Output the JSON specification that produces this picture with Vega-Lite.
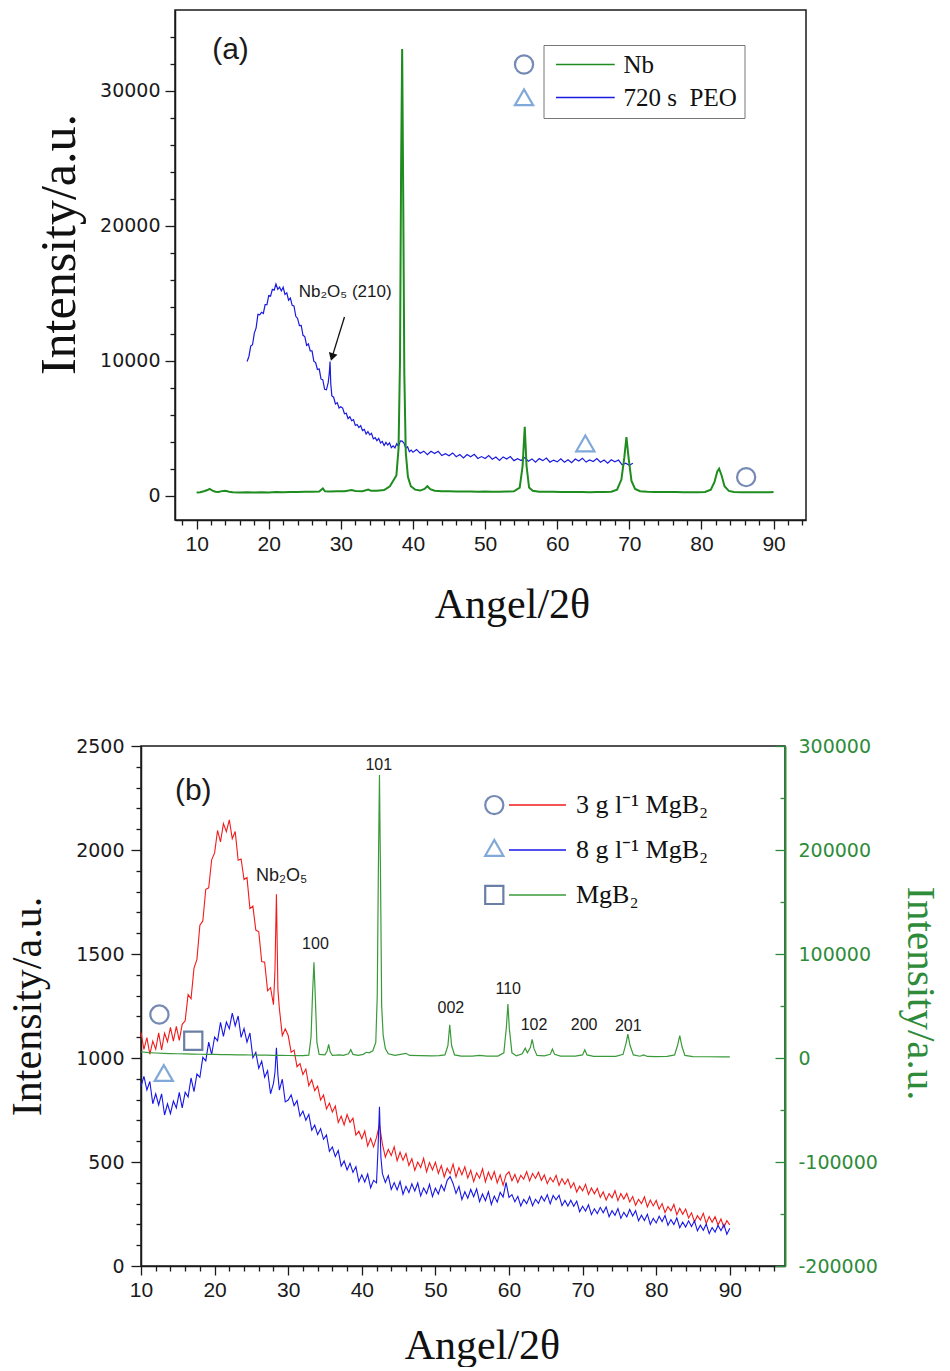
{
"$schema": "https://vega.github.io/schema/vega-lite/v6.json",
"background": "white",
"padding": {"left": 4, "top": 9, "right": 0, "bottom": 0},
"config": {
  "view": {"stroke": "#1a1a1a", "strokeWidth": 1.5},
  "axis": {"grid": false, "domainColor": "#1a1a1a", "domainWidth": 1.5, "tickColor": "#1a1a1a", "tickWidth": 1.3, "labelColor": "#1a1a1a", "titleColor": "#111111", "labelFont": "DejaVu Sans", "labelFontSize": 19, "titleFont": "Liberation Serif", "titleFontWeight": "normal", "labelFlush": false, "labelOverlap": false, "labelBound": false},
  "text": {"font": "Liberation Sans", "color": "#1a1a1a"}
},
"resolve": {"scale": {"color": "independent", "shape": "independent", "stroke": "independent"}},
"datasets": {
  "a_lines": [
    {"s":"Nb","x":10,"y":230},{"s":"Nb","x":10.5,"y":260},{"s":"Nb","x":11,"y":330},{"s":"Nb","x":11.5,"y":420},{"s":"Nb","x":11.8,"y":500},{"s":"Nb","x":12.2,"y":380},{"s":"Nb","x":12.6,"y":300},{"s":"Nb","x":13,"y":280},{"s":"Nb","x":13.5,"y":340},{"s":"Nb","x":14,"y":360},{"s":"Nb","x":14.5,"y":300},{"s":"Nb","x":15,"y":260},{"s":"Nb","x":16,"y":240},{"s":"Nb","x":17,"y":250},{"s":"Nb","x":18,"y":230},{"s":"Nb","x":19,"y":250},{"s":"Nb","x":20,"y":240},{"s":"Nb","x":21,"y":270},{"s":"Nb","x":22,"y":260},{"s":"Nb","x":23,"y":280},{"s":"Nb","x":24,"y":270},{"s":"Nb","x":25,"y":290},{"s":"Nb","x":26,"y":300},{"s":"Nb","x":27,"y":320},{"s":"Nb","x":27.5,"y":540},{"s":"Nb","x":27.8,"y":330},{"s":"Nb","x":28.5,"y":320},{"s":"Nb","x":29.5,"y":330},{"s":"Nb","x":30.5,"y":340},{"s":"Nb","x":31.5,"y":420},{"s":"Nb","x":32,"y":350},{"s":"Nb","x":33,"y":340},{"s":"Nb","x":33.8,"y":460},{"s":"Nb","x":34.2,"y":360},{"s":"Nb","x":35,"y":370},{"s":"Nb","x":36,"y":420},{"s":"Nb","x":36.8,"y":700},{"s":"Nb","x":37.3,"y":1150},{"s":"Nb","x":37.7,"y":1500},{"s":"Nb","x":38.0,"y":3500},{"s":"Nb","x":38.2,"y":10000},{"s":"Nb","x":38.35,"y":24000},{"s":"Nb","x":38.5,"y":33100},{"s":"Nb","x":38.65,"y":22000},{"s":"Nb","x":38.8,"y":9000},{"s":"Nb","x":39.0,"y":3200},{"s":"Nb","x":39.3,"y":1400},{"s":"Nb","x":39.7,"y":700},{"s":"Nb","x":40.3,"y":450},{"s":"Nb","x":41,"y":380},{"s":"Nb","x":41.6,"y":500},{"s":"Nb","x":42,"y":700},{"s":"Nb","x":42.4,"y":480},{"s":"Nb","x":43,"y":370},{"s":"Nb","x":44,"y":340},{"s":"Nb","x":45,"y":330},{"s":"Nb","x":46,"y":320},{"s":"Nb","x":47,"y":310},{"s":"Nb","x":48,"y":320},{"s":"Nb","x":49,"y":300},{"s":"Nb","x":50,"y":310},{"s":"Nb","x":51,"y":300},{"s":"Nb","x":52,"y":300},{"s":"Nb","x":53,"y":310},{"s":"Nb","x":54,"y":330},{"s":"Nb","x":54.8,"y":600},{"s":"Nb","x":55.2,"y":2200},{"s":"Nb","x":55.5,"y":5100},{"s":"Nb","x":55.75,"y":2200},{"s":"Nb","x":56.1,"y":600},{"s":"Nb","x":56.6,"y":360},{"s":"Nb","x":57.5,"y":300},{"s":"Nb","x":58.5,"y":290},{"s":"Nb","x":59.5,"y":290},{"s":"Nb","x":60.5,"y":280},{"s":"Nb","x":61.5,"y":280},{"s":"Nb","x":62.5,"y":270},{"s":"Nb","x":63.5,"y":270},{"s":"Nb","x":64.5,"y":260},{"s":"Nb","x":65.5,"y":270},{"s":"Nb","x":66.5,"y":280},{"s":"Nb","x":67.5,"y":300},{"s":"Nb","x":68.3,"y":450},{"s":"Nb","x":68.9,"y":1200},{"s":"Nb","x":69.3,"y":2800},{"s":"Nb","x":69.6,"y":4350},{"s":"Nb","x":69.9,"y":2800},{"s":"Nb","x":70.3,"y":1100},{"s":"Nb","x":70.8,"y":500},{"s":"Nb","x":71.5,"y":330},{"s":"Nb","x":72.5,"y":290},{"s":"Nb","x":73.5,"y":280},{"s":"Nb","x":74.5,"y":280},{"s":"Nb","x":75.5,"y":270},{"s":"Nb","x":76.5,"y":270},{"s":"Nb","x":77.5,"y":260},{"s":"Nb","x":78.5,"y":260},{"s":"Nb","x":79.5,"y":260},{"s":"Nb","x":80.5,"y":280},{"s":"Nb","x":81.3,"y":450},{"s":"Nb","x":81.8,"y":1000},{"s":"Nb","x":82.2,"y":1800},{"s":"Nb","x":82.45,"y":2000},{"s":"Nb","x":82.8,"y":1500},{"s":"Nb","x":83.2,"y":700},{"s":"Nb","x":83.8,"y":360},{"s":"Nb","x":84.5,"y":280},{"s":"Nb","x":85.5,"y":260},{"s":"Nb","x":86.5,"y":250},{"s":"Nb","x":87.5,"y":250},{"s":"Nb","x":88.5,"y":250},{"s":"Nb","x":89.5,"y":260},{"s":"Nb","x":90,"y":270},
    {"s":"720 s\u00a0 PEO","x":17.0,"y":9950},{"s":"720 s\u00a0 PEO","x":17.25,"y":10320},{"s":"720 s\u00a0 PEO","x":17.5,"y":11090},{"s":"720 s\u00a0 PEO","x":17.75,"y":11190},{"s":"720 s\u00a0 PEO","x":18.0,"y":12050},{"s":"720 s\u00a0 PEO","x":18.25,"y":12440},{"s":"720 s\u00a0 PEO","x":18.5,"y":13440},{"s":"720 s\u00a0 PEO","x":18.75,"y":13400},{"s":"720 s\u00a0 PEO","x":19.0,"y":13590},{"s":"720 s\u00a0 PEO","x":19.25,"y":13510},{"s":"720 s\u00a0 PEO","x":19.5,"y":14170},{"s":"720 s\u00a0 PEO","x":19.75,"y":14170},{"s":"720 s\u00a0 PEO","x":20.0,"y":14840},{"s":"720 s\u00a0 PEO","x":20.25,"y":14790},{"s":"720 s\u00a0 PEO","x":20.5,"y":15300},{"s":"720 s\u00a0 PEO","x":20.75,"y":15240},{"s":"720 s\u00a0 PEO","x":21.0,"y":15690},{"s":"720 s\u00a0 PEO","x":21.25,"y":15300},{"s":"720 s\u00a0 PEO","x":21.5,"y":15460},{"s":"720 s\u00a0 PEO","x":21.75,"y":15180},{"s":"720 s\u00a0 PEO","x":22.0,"y":15450},{"s":"720 s\u00a0 PEO","x":22.25,"y":14920},{"s":"720 s\u00a0 PEO","x":22.5,"y":15040},{"s":"720 s\u00a0 PEO","x":22.75,"y":14490},{"s":"720 s\u00a0 PEO","x":23.0,"y":14650},{"s":"720 s\u00a0 PEO","x":23.25,"y":14110},{"s":"720 s\u00a0 PEO","x":23.5,"y":14070},{"s":"720 s\u00a0 PEO","x":23.75,"y":13300},{"s":"720 s\u00a0 PEO","x":24.0,"y":13140},{"s":"720 s\u00a0 PEO","x":24.25,"y":12610},{"s":"720 s\u00a0 PEO","x":24.5,"y":12620},{"s":"720 s\u00a0 PEO","x":24.75,"y":11890},{"s":"720 s\u00a0 PEO","x":25.0,"y":11790},{"s":"720 s\u00a0 PEO","x":25.25,"y":11140},{"s":"720 s\u00a0 PEO","x":25.5,"y":11250},{"s":"720 s\u00a0 PEO","x":25.75,"y":10740},{"s":"720 s\u00a0 PEO","x":26.0,"y":10740},{"s":"720 s\u00a0 PEO","x":26.25,"y":9970},{"s":"720 s\u00a0 PEO","x":26.5,"y":9870},{"s":"720 s\u00a0 PEO","x":26.75,"y":9360},{"s":"720 s\u00a0 PEO","x":27.0,"y":9390},{"s":"720 s\u00a0 PEO","x":27.25,"y":8650},{"s":"720 s\u00a0 PEO","x":27.5,"y":8590},{"s":"720 s\u00a0 PEO","x":27.75,"y":7890},{"s":"720 s\u00a0 PEO","x":28.0,"y":7850},{"s":"720 s\u00a0 PEO","x":28.25,"y":8400},{"s":"720 s\u00a0 PEO","x":28.4,"y":9100},{"s":"720 s\u00a0 PEO","x":28.5,"y":9950},{"s":"720 s\u00a0 PEO","x":28.6,"y":8300},{"s":"720 s\u00a0 PEO","x":28.75,"y":7400},{"s":"720 s\u00a0 PEO","x":29.0,"y":7300},{"s":"720 s\u00a0 PEO","x":29.25,"y":6800},{"s":"720 s\u00a0 PEO","x":29.5,"y":6900},{"s":"720 s\u00a0 PEO","x":29.75,"y":6500},{"s":"720 s\u00a0 PEO","x":30.0,"y":6600},
    {"s":"720 s\u00a0 PEO","x":30.25,"y":6500},{"s":"720 s\u00a0 PEO","x":30.5,"y":6075},{"s":"720 s\u00a0 PEO","x":30.75,"y":6115},{"s":"720 s\u00a0 PEO","x":31.0,"y":5720},{"s":"720 s\u00a0 PEO","x":31.25,"y":5855},{"s":"720 s\u00a0 PEO","x":31.5,"y":5560},{"s":"720 s\u00a0 PEO","x":31.75,"y":5640},{"s":"720 s\u00a0 PEO","x":32.0,"y":5210},{"s":"720 s\u00a0 PEO","x":32.25,"y":5280},{"s":"720 s\u00a0 PEO","x":32.5,"y":5050},{"s":"720 s\u00a0 PEO","x":32.75,"y":5200},{"s":"720 s\u00a0 PEO","x":33.0,"y":4825},{"s":"720 s\u00a0 PEO","x":33.25,"y":4915},{"s":"720 s\u00a0 PEO","x":33.5,"y":4570},{"s":"720 s\u00a0 PEO","x":33.75,"y":4755},{"s":"720 s\u00a0 PEO","x":34.0,"y":4510},{"s":"720 s\u00a0 PEO","x":34.25,"y":4620},{"s":"720 s\u00a0 PEO","x":34.5,"y":4210},{"s":"720 s\u00a0 PEO","x":34.75,"y":4300},{"s":"720 s\u00a0 PEO","x":35.0,"y":4080},{"s":"720 s\u00a0 PEO","x":35.25,"y":4250},{"s":"720 s\u00a0 PEO","x":35.5,"y":3905},{"s":"720 s\u00a0 PEO","x":35.75,"y":4025},{"s":"720 s\u00a0 PEO","x":36.0,"y":3720},{"s":"720 s\u00a0 PEO","x":36.25,"y":3955},{"s":"720 s\u00a0 PEO","x":36.5,"y":3760},{"s":"720 s\u00a0 PEO","x":36.75,"y":3920},{"s":"720 s\u00a0 PEO","x":37.0,"y":3560},{"s":"720 s\u00a0 PEO","x":37.25,"y":3700},{"s":"720 s\u00a0 PEO","x":37.5,"y":3550},{"s":"720 s\u00a0 PEO","x":37.75,"y":3850},{"s":"720 s\u00a0 PEO","x":38.0,"y":3675},{"s":"720 s\u00a0 PEO","x":38.25,"y":4065},{"s":"720 s\u00a0 PEO","x":38.5,"y":4050},{"s":"720 s\u00a0 PEO","x":38.75,"y":3905},{"s":"720 s\u00a0 PEO","x":39.0,"y":3510},{"s":"720 s\u00a0 PEO","x":39.25,"y":3620},{"s":"720 s\u00a0 PEO","x":39.5,"y":3260},{"s":"720 s\u00a0 PEO","x":39.75,"y":3380},{"s":"720 s\u00a0 PEO","x":40.0,"y":3220},
    {"s":"720 s\u00a0 PEO","x":40.5,"y":3430},{"s":"720 s\u00a0 PEO","x":41.0,"y":3145},{"s":"720 s\u00a0 PEO","x":41.5,"y":3300},{"s":"720 s\u00a0 PEO","x":42.0,"y":3045},{"s":"720 s\u00a0 PEO","x":42.5,"y":3290},{"s":"720 s\u00a0 PEO","x":43.0,"y":3120},{"s":"720 s\u00a0 PEO","x":43.5,"y":3290},{"s":"720 s\u00a0 PEO","x":44.0,"y":2975},{"s":"720 s\u00a0 PEO","x":44.5,"y":3110},{"s":"720 s\u00a0 PEO","x":45.0,"y":2960},{"s":"720 s\u00a0 PEO","x":45.5,"y":3170},{"s":"720 s\u00a0 PEO","x":46.0,"y":2890},{"s":"720 s\u00a0 PEO","x":46.5,"y":3050},{"s":"720 s\u00a0 PEO","x":47.0,"y":2800},{"s":"720 s\u00a0 PEO","x":47.5,"y":3050},{"s":"720 s\u00a0 PEO","x":48.0,"y":2890},{"s":"720 s\u00a0 PEO","x":48.5,"y":3070},{"s":"720 s\u00a0 PEO","x":49.0,"y":2760},{"s":"720 s\u00a0 PEO","x":49.5,"y":2900},{"s":"720 s\u00a0 PEO","x":50.0,"y":2760},{"s":"720 s\u00a0 PEO","x":50.5,"y":2975},{"s":"720 s\u00a0 PEO","x":51.0,"y":2700},{"s":"720 s\u00a0 PEO","x":51.5,"y":2865},{"s":"720 s\u00a0 PEO","x":52.0,"y":2620},{"s":"720 s\u00a0 PEO","x":52.5,"y":2875},{"s":"720 s\u00a0 PEO","x":53.0,"y":2720},{"s":"720 s\u00a0 PEO","x":53.5,"y":2905},{"s":"720 s\u00a0 PEO","x":54.0,"y":2600},{"s":"720 s\u00a0 PEO","x":54.5,"y":2745},{"s":"720 s\u00a0 PEO","x":55.0,"y":2610},{"s":"720 s\u00a0 PEO","x":55.5,"y":2830},{"s":"720 s\u00a0 PEO","x":56.0,"y":2560},{"s":"720 s\u00a0 PEO","x":56.5,"y":2730},{"s":"720 s\u00a0 PEO","x":57.0,"y":2490},{"s":"720 s\u00a0 PEO","x":57.5,"y":2750},{"s":"720 s\u00a0 PEO","x":58.0,"y":2600},{"s":"720 s\u00a0 PEO","x":58.5,"y":2790},{"s":"720 s\u00a0 PEO","x":59.0,"y":2490},{"s":"720 s\u00a0 PEO","x":59.5,"y":2640},{"s":"720 s\u00a0 PEO","x":60.0,"y":2510},{"s":"720 s\u00a0 PEO","x":60.5,"y":2743},{"s":"720 s\u00a0 PEO","x":61.0,"y":2486},{"s":"720 s\u00a0 PEO","x":61.5,"y":2669},{"s":"720 s\u00a0 PEO","x":62.0,"y":2442},{"s":"720 s\u00a0 PEO","x":62.5,"y":2715},{"s":"720 s\u00a0 PEO","x":63.0,"y":2578},{"s":"720 s\u00a0 PEO","x":63.5,"y":2781},{"s":"720 s\u00a0 PEO","x":64.0,"y":2494},{"s":"720 s\u00a0 PEO","x":64.5,"y":2657},{"s":"720 s\u00a0 PEO","x":65.0,"y":2540},{"s":"720 s\u00a0 PEO","x":65.5,"y":2757},{"s":"720 s\u00a0 PEO","x":66.0,"y":2484},{"s":"720 s\u00a0 PEO","x":66.5,"y":2650},{"s":"720 s\u00a0 PEO","x":67.0,"y":2407},{"s":"720 s\u00a0 PEO","x":67.5,"y":2664},{"s":"720 s\u00a0 PEO","x":68.0,"y":2510},{"s":"720 s\u00a0 PEO","x":68.5,"y":2645},{"s":"720 s\u00a0 PEO","x":69.0,"y":2290},{"s":"720 s\u00a0 PEO","x":69.5,"y":2415},{"s":"720 s\u00a0 PEO","x":70.0,"y":2260},{"s":"720 s\u00a0 PEO","x":70.5,"y":2400}
  ],
  "a_marks": [{"k":"circle","x":86.2,"y":1375},{"k":"triangle","x":63.9,"y":3875},{"k":"circle","x":55.4,"y":31960},{"k":"triangle","x":55.4,"y":29530}],
  "a_arrow": [{"x":30.5,"y":13250,"x2":28.78,"y2":10275}],
  "a_head": [{"x":28.78,"y":10275}],
  "a_label": [{"t":"(a)","x":14.7,"y":33000}],
  "a_nb": [{"t":"Nb₂O₅ (210)","x":30.6,"y":15125}],
  "b_lines": [
    {"s":"3 g l⁻¹ MgB₂","x":10.0,"y":1122},{"s":"3 g l⁻¹ MgB₂","x":10.4,"y":1041},{"s":"3 g l⁻¹ MgB₂","x":10.8,"y":1098},{"s":"3 g l⁻¹ MgB₂","x":11.2,"y":1018},{"s":"3 g l⁻¹ MgB₂","x":11.6,"y":1081},{"s":"3 g l⁻¹ MgB₂","x":12.0,"y":1042},{"s":"3 g l⁻¹ MgB₂","x":12.4,"y":1121},{"s":"3 g l⁻¹ MgB₂","x":12.8,"y":1039},{"s":"3 g l⁻¹ MgB₂","x":13.2,"y":1119},{"s":"3 g l⁻¹ MgB₂","x":13.6,"y":1078},{"s":"3 g l⁻¹ MgB₂","x":14.0,"y":1147},{"s":"3 g l⁻¹ MgB₂","x":14.4,"y":1081},{"s":"3 g l⁻¹ MgB₂","x":14.8,"y":1152},{"s":"3 g l⁻¹ MgB₂","x":15.2,"y":1085},{"s":"3 g l⁻¹ MgB₂","x":15.6,"y":1162},{"s":"3 g l⁻¹ MgB₂","x":16.0,"y":1179},{"s":"3 g l⁻¹ MgB₂","x":16.4,"y":1305},{"s":"3 g l⁻¹ MgB₂","x":16.8,"y":1285},{"s":"3 g l⁻¹ MgB₂","x":17.2,"y":1432},{"s":"3 g l⁻¹ MgB₂","x":17.6,"y":1474},{"s":"3 g l⁻¹ MgB₂","x":18.0,"y":1639},{"s":"3 g l⁻¹ MgB₂","x":18.4,"y":1659},{"s":"3 g l⁻¹ MgB₂","x":18.8,"y":1811},{"s":"3 g l⁻¹ MgB₂","x":19.2,"y":1818},{"s":"3 g l⁻¹ MgB₂","x":19.6,"y":1953},{"s":"3 g l⁻¹ MgB₂","x":20.0,"y":1986},{"s":"3 g l⁻¹ MgB₂","x":20.4,"y":2094},{"s":"3 g l⁻¹ MgB₂","x":20.8,"y":2039},{"s":"3 g l⁻¹ MgB₂","x":21.2,"y":2127},{"s":"3 g l⁻¹ MgB₂","x":21.6,"y":2088},{"s":"3 g l⁻¹ MgB₂","x":22.0,"y":2145},{"s":"3 g l⁻¹ MgB₂","x":22.4,"y":2054},{"s":"3 g l⁻¹ MgB₂","x":22.8,"y":2089},{"s":"3 g l⁻¹ MgB₂","x":23.2,"y":1951},{"s":"3 g l⁻¹ MgB₂","x":23.6,"y":1957},{"s":"3 g l⁻¹ MgB₂","x":24.0,"y":1858},{"s":"3 g l⁻¹ MgB₂","x":24.4,"y":1868},{"s":"3 g l⁻¹ MgB₂","x":24.8,"y":1718},{"s":"3 g l⁻¹ MgB₂","x":25.2,"y":1730},{"s":"3 g l⁻¹ MgB₂","x":25.6,"y":1615},{"s":"3 g l⁻¹ MgB₂","x":26.0,"y":1607},{"s":"3 g l⁻¹ MgB₂","x":26.4,"y":1464},{"s":"3 g l⁻¹ MgB₂","x":26.8,"y":1461},{"s":"3 g l⁻¹ MgB₂","x":27.2,"y":1323},{"s":"3 g l⁻¹ MgB₂","x":27.6,"y":1338},{"s":"3 g l⁻¹ MgB₂","x":28.0,"y":1256},{"s":"3 g l⁻¹ MgB₂","x":28.2,"y":1420},{"s":"3 g l⁻¹ MgB₂","x":28.4,"y":1787},{"s":"3 g l⁻¹ MgB₂","x":28.6,"y":1330},{"s":"3 g l⁻¹ MgB₂","x":28.8,"y":1238},{"s":"3 g l⁻¹ MgB₂","x":29.2,"y":1108},{"s":"3 g l⁻¹ MgB₂","x":29.6,"y":1140},
    {"s":"3 g l⁻¹ MgB₂","x":30.0,"y":1108},{"s":"3 g l⁻¹ MgB₂","x":30.4,"y":1028},{"s":"3 g l⁻¹ MgB₂","x":30.8,"y":1038},{"s":"3 g l⁻¹ MgB₂","x":31.2,"y":958},{"s":"3 g l⁻¹ MgB₂","x":31.6,"y":973},{"s":"3 g l⁻¹ MgB₂","x":32.0,"y":921},{"s":"3 g l⁻¹ MgB₂","x":32.4,"y":947},{"s":"3 g l⁻¹ MgB₂","x":32.8,"y":867},{"s":"3 g l⁻¹ MgB₂","x":33.2,"y":895},{"s":"3 g l⁻¹ MgB₂","x":33.6,"y":843},{"s":"3 g l⁻¹ MgB₂","x":34.0,"y":865},{"s":"3 g l⁻¹ MgB₂","x":34.4,"y":798},{"s":"3 g l⁻¹ MgB₂","x":34.8,"y":822},{"s":"3 g l⁻¹ MgB₂","x":35.2,"y":755},{"s":"3 g l⁻¹ MgB₂","x":35.6,"y":783},{"s":"3 g l⁻¹ MgB₂","x":36.0,"y":740},{"s":"3 g l⁻¹ MgB₂","x":36.4,"y":769},{"s":"3 g l⁻¹ MgB₂","x":36.8,"y":690},{"s":"3 g l⁻¹ MgB₂","x":37.2,"y":720},{"s":"3 g l⁻¹ MgB₂","x":37.6,"y":678},{"s":"3 g l⁻¹ MgB₂","x":38.0,"y":728},{"s":"3 g l⁻¹ MgB₂","x":38.4,"y":691},{"s":"3 g l⁻¹ MgB₂","x":38.8,"y":711},{"s":"3 g l⁻¹ MgB₂","x":39.2,"y":629},{"s":"3 g l⁻¹ MgB₂","x":39.6,"y":648},{"s":"3 g l⁻¹ MgB₂","x":40.0,"y":612},{"s":"3 g l⁻¹ MgB₂","x":40.4,"y":649},{"s":"3 g l⁻¹ MgB₂","x":40.8,"y":577},{"s":"3 g l⁻¹ MgB₂","x":41.2,"y":614},{"s":"3 g l⁻¹ MgB₂","x":41.6,"y":573},{"s":"3 g l⁻¹ MgB₂","x":42.0,"y":618},{"s":"3 g l⁻¹ MgB₂","x":42.4,"y":680},{"s":"3 g l⁻¹ MgB₂","x":42.8,"y":586},{"s":"3 g l⁻¹ MgB₂","x":43.2,"y":524},{"s":"3 g l⁻¹ MgB₂","x":43.6,"y":561},{"s":"3 g l⁻¹ MgB₂","x":44.0,"y":531},{"s":"3 g l⁻¹ MgB₂","x":44.4,"y":573},{"s":"3 g l⁻¹ MgB₂","x":44.8,"y":506},{"s":"3 g l⁻¹ MgB₂","x":45.2,"y":547},{"s":"3 g l⁻¹ MgB₂","x":45.6,"y":508},{"s":"3 g l⁻¹ MgB₂","x":46.0,"y":541},{"s":"3 g l⁻¹ MgB₂","x":46.4,"y":483},{"s":"3 g l⁻¹ MgB₂","x":46.8,"y":516},{"s":"3 g l⁻¹ MgB₂","x":47.2,"y":460},{"s":"3 g l⁻¹ MgB₂","x":47.6,"y":500},{"s":"3 g l⁻¹ MgB₂","x":48.0,"y":473},{"s":"3 g l⁻¹ MgB₂","x":48.4,"y":517},{"s":"3 g l⁻¹ MgB₂","x":48.8,"y":453},{"s":"3 g l⁻¹ MgB₂","x":49.2,"y":497},{"s":"3 g l⁻¹ MgB₂","x":49.6,"y":462},{"s":"3 g l⁻¹ MgB₂","x":50.0,"y":499},{"s":"3 g l⁻¹ MgB₂","x":50.4,"y":445},{"s":"3 g l⁻¹ MgB₂","x":50.8,"y":483},{"s":"3 g l⁻¹ MgB₂","x":51.2,"y":428},{"s":"3 g l⁻¹ MgB₂","x":51.6,"y":470},{"s":"3 g l⁻¹ MgB₂","x":52.0,"y":444},{"s":"3 g l⁻¹ MgB₂","x":52.4,"y":490},{"s":"3 g l⁻¹ MgB₂","x":52.8,"y":428},{"s":"3 g l⁻¹ MgB₂","x":53.2,"y":473},{"s":"3 g l⁻¹ MgB₂","x":53.6,"y":439},{"s":"3 g l⁻¹ MgB₂","x":54.0,"y":477},{"s":"3 g l⁻¹ MgB₂","x":54.4,"y":423},{"s":"3 g l⁻¹ MgB₂","x":54.8,"y":460},{"s":"3 g l⁻¹ MgB₂","x":55.2,"y":406},{"s":"3 g l⁻¹ MgB₂","x":55.6,"y":448},{"s":"3 g l⁻¹ MgB₂","x":56.0,"y":422},{"s":"3 g l⁻¹ MgB₂","x":56.4,"y":467},{"s":"3 g l⁻¹ MgB₂","x":56.8,"y":405},{"s":"3 g l⁻¹ MgB₂","x":57.2,"y":451},{"s":"3 g l⁻¹ MgB₂","x":57.6,"y":416},{"s":"3 g l⁻¹ MgB₂","x":58.0,"y":454},{"s":"3 g l⁻¹ MgB₂","x":58.4,"y":399},{"s":"3 g l⁻¹ MgB₂","x":58.8,"y":438},{"s":"3 g l⁻¹ MgB₂","x":59.2,"y":388},{"s":"3 g l⁻¹ MgB₂","x":59.6,"y":438},
    {"s":"3 g l⁻¹ MgB₂","x":60.0,"y":453},{"s":"3 g l⁻¹ MgB₂","x":60.4,"y":410},{"s":"3 g l⁻¹ MgB₂","x":60.8,"y":440},{"s":"3 g l⁻¹ MgB₂","x":61.2,"y":402},{"s":"3 g l⁻¹ MgB₂","x":61.6,"y":436},{"s":"3 g l⁻¹ MgB₂","x":62.0,"y":418},{"s":"3 g l⁻¹ MgB₂","x":62.4,"y":454},{"s":"3 g l⁻¹ MgB₂","x":62.8,"y":409},{"s":"3 g l⁻¹ MgB₂","x":63.2,"y":445},{"s":"3 g l⁻¹ MgB₂","x":63.6,"y":421},{"s":"3 g l⁻¹ MgB₂","x":64.0,"y":451},{"s":"3 g l⁻¹ MgB₂","x":64.4,"y":412},{"s":"3 g l⁻¹ MgB₂","x":64.8,"y":438},{"s":"3 g l⁻¹ MgB₂","x":65.2,"y":396},{"s":"3 g l⁻¹ MgB₂","x":65.6,"y":425},{"s":"3 g l⁻¹ MgB₂","x":66.0,"y":404},{"s":"3 g l⁻¹ MgB₂","x":66.4,"y":436},{"s":"3 g l⁻¹ MgB₂","x":66.8,"y":388},{"s":"3 g l⁻¹ MgB₂","x":67.2,"y":420},{"s":"3 g l⁻¹ MgB₂","x":67.6,"y":393},{"s":"3 g l⁻¹ MgB₂","x":68.0,"y":418},{"s":"3 g l⁻¹ MgB₂","x":68.4,"y":375},{"s":"3 g l⁻¹ MgB₂","x":68.8,"y":400},{"s":"3 g l⁻¹ MgB₂","x":69.2,"y":356},{"s":"3 g l⁻¹ MgB₂","x":69.6,"y":384},{"s":"3 g l⁻¹ MgB₂","x":70.0,"y":361},{"s":"3 g l⁻¹ MgB₂","x":70.4,"y":393},{"s":"3 g l⁻¹ MgB₂","x":70.8,"y":344},{"s":"3 g l⁻¹ MgB₂","x":71.2,"y":375},{"s":"3 g l⁻¹ MgB₂","x":71.6,"y":347},{"s":"3 g l⁻¹ MgB₂","x":72.0,"y":373},{"s":"3 g l⁻¹ MgB₂","x":72.4,"y":330},{"s":"3 g l⁻¹ MgB₂","x":72.8,"y":356},{"s":"3 g l⁻¹ MgB₂","x":73.2,"y":317},{"s":"3 g l⁻¹ MgB₂","x":73.6,"y":348},{"s":"3 g l⁻¹ MgB₂","x":74.0,"y":328},{"s":"3 g l⁻¹ MgB₂","x":74.4,"y":362},{"s":"3 g l⁻¹ MgB₂","x":74.8,"y":314},{"s":"3 g l⁻¹ MgB₂","x":75.2,"y":348},{"s":"3 g l⁻¹ MgB₂","x":75.6,"y":322},{"s":"3 g l⁻¹ MgB₂","x":76.0,"y":349},{"s":"3 g l⁻¹ MgB₂","x":76.4,"y":308},{"s":"3 g l⁻¹ MgB₂","x":76.8,"y":334},{"s":"3 g l⁻¹ MgB₂","x":77.2,"y":292},{"s":"3 g l⁻¹ MgB₂","x":77.6,"y":321},{"s":"3 g l⁻¹ MgB₂","x":78.0,"y":300},{"s":"3 g l⁻¹ MgB₂","x":78.4,"y":332},{"s":"3 g l⁻¹ MgB₂","x":78.8,"y":284},{"s":"3 g l⁻¹ MgB₂","x":79.2,"y":317},{"s":"3 g l⁻¹ MgB₂","x":79.6,"y":289},{"s":"3 g l⁻¹ MgB₂","x":80.0,"y":315},{"s":"3 g l⁻¹ MgB₂","x":80.4,"y":273},{"s":"3 g l⁻¹ MgB₂","x":80.8,"y":300},{"s":"3 g l⁻¹ MgB₂","x":81.2,"y":257},{"s":"3 g l⁻¹ MgB₂","x":81.6,"y":286},{"s":"3 g l⁻¹ MgB₂","x":82.0,"y":265},{"s":"3 g l⁻¹ MgB₂","x":82.4,"y":296},{"s":"3 g l⁻¹ MgB₂","x":82.8,"y":247},{"s":"3 g l⁻¹ MgB₂","x":83.2,"y":278},{"s":"3 g l⁻¹ MgB₂","x":83.6,"y":249},{"s":"3 g l⁻¹ MgB₂","x":84.0,"y":274},{"s":"3 g l⁻¹ MgB₂","x":84.4,"y":231},{"s":"3 g l⁻¹ MgB₂","x":84.8,"y":256},{"s":"3 g l⁻¹ MgB₂","x":85.2,"y":212},{"s":"3 g l⁻¹ MgB₂","x":85.6,"y":242},{"s":"3 g l⁻¹ MgB₂","x":86.0,"y":221},{"s":"3 g l⁻¹ MgB₂","x":86.4,"y":253},{"s":"3 g l⁻¹ MgB₂","x":86.8,"y":205},{"s":"3 g l⁻¹ MgB₂","x":87.2,"y":238},{"s":"3 g l⁻¹ MgB₂","x":87.6,"y":210},{"s":"3 g l⁻¹ MgB₂","x":88.0,"y":237},{"s":"3 g l⁻¹ MgB₂","x":88.4,"y":197},{"s":"3 g l⁻¹ MgB₂","x":88.8,"y":226},{"s":"3 g l⁻¹ MgB₂","x":89.2,"y":186},{"s":"3 g l⁻¹ MgB₂","x":89.6,"y":218},{"s":"3 g l⁻¹ MgB₂","x":90.0,"y":198},
    {"s":"8 g l⁻¹ MgB₂","x":10.0,"y":864},{"s":"8 g l⁻¹ MgB₂","x":10.4,"y":912},{"s":"8 g l⁻¹ MgB₂","x":10.8,"y":846},{"s":"8 g l⁻¹ MgB₂","x":11.2,"y":887},{"s":"8 g l⁻¹ MgB₂","x":11.6,"y":780},{"s":"8 g l⁻¹ MgB₂","x":12.0,"y":828},{"s":"8 g l⁻¹ MgB₂","x":12.4,"y":774},{"s":"8 g l⁻¹ MgB₂","x":12.8,"y":828},{"s":"8 g l⁻¹ MgB₂","x":13.2,"y":726},{"s":"8 g l⁻¹ MgB₂","x":13.6,"y":780},{"s":"8 g l⁻¹ MgB₂","x":14.0,"y":733},{"s":"8 g l⁻¹ MgB₂","x":14.4,"y":793},{"s":"8 g l⁻¹ MgB₂","x":14.8,"y":760},{"s":"8 g l⁻¹ MgB₂","x":15.2,"y":835},{"s":"8 g l⁻¹ MgB₂","x":15.6,"y":760},{"s":"8 g l⁻¹ MgB₂","x":16.0,"y":835},{"s":"8 g l⁻¹ MgB₂","x":16.4,"y":813},{"s":"8 g l⁻¹ MgB₂","x":16.8,"y":904},{"s":"8 g l⁻¹ MgB₂","x":17.2,"y":838},{"s":"8 g l⁻¹ MgB₂","x":17.6,"y":923},{"s":"8 g l⁻¹ MgB₂","x":18.0,"y":907},{"s":"8 g l⁻¹ MgB₂","x":18.4,"y":1003},{"s":"8 g l⁻¹ MgB₂","x":18.8,"y":986},{"s":"8 g l⁻¹ MgB₂","x":19.2,"y":1076},{"s":"8 g l⁻¹ MgB₂","x":19.6,"y":1016},{"s":"8 g l⁻¹ MgB₂","x":20.0,"y":1101},{"s":"8 g l⁻¹ MgB₂","x":20.4,"y":1082},{"s":"8 g l⁻¹ MgB₂","x":20.8,"y":1171},{"s":"8 g l⁻¹ MgB₂","x":21.2,"y":1104},{"s":"8 g l⁻¹ MgB₂","x":21.6,"y":1173},{"s":"8 g l⁻¹ MgB₂","x":22.0,"y":1141},{"s":"8 g l⁻¹ MgB₂","x":22.4,"y":1216},{"s":"8 g l⁻¹ MgB₂","x":22.8,"y":1155},{"s":"8 g l⁻¹ MgB₂","x":23.2,"y":1202},{"s":"8 g l⁻¹ MgB₂","x":23.6,"y":1099},{"s":"8 g l⁻¹ MgB₂","x":24.0,"y":1141},{"s":"8 g l⁻¹ MgB₂","x":24.4,"y":1076},{"s":"8 g l⁻¹ MgB₂","x":24.8,"y":1120},{"s":"8 g l⁻¹ MgB₂","x":25.2,"y":1001},{"s":"8 g l⁻¹ MgB₂","x":25.6,"y":1027},{"s":"8 g l⁻¹ MgB₂","x":26.0,"y":950},{"s":"8 g l⁻¹ MgB₂","x":26.4,"y":985},{"s":"8 g l⁻¹ MgB₂","x":26.8,"y":908},{"s":"8 g l⁻¹ MgB₂","x":27.2,"y":939},{"s":"8 g l⁻¹ MgB₂","x":27.6,"y":828},{"s":"8 g l⁻¹ MgB₂","x":28.0,"y":878},{"s":"8 g l⁻¹ MgB₂","x":28.2,"y":930},{"s":"8 g l⁻¹ MgB₂","x":28.4,"y":1049},{"s":"8 g l⁻¹ MgB₂","x":28.6,"y":920},{"s":"8 g l⁻¹ MgB₂","x":28.8,"y":846},{"s":"8 g l⁻¹ MgB₂","x":29.2,"y":898},{"s":"8 g l⁻¹ MgB₂","x":29.6,"y":789},
    {"s":"8 g l⁻¹ MgB₂","x":30.0,"y":798},{"s":"8 g l⁻¹ MgB₂","x":30.4,"y":823},{"s":"8 g l⁻¹ MgB₂","x":30.8,"y":771},{"s":"8 g l⁻¹ MgB₂","x":31.2,"y":795},{"s":"8 g l⁻¹ MgB₂","x":31.6,"y":720},{"s":"8 g l⁻¹ MgB₂","x":32.0,"y":745},{"s":"8 g l⁻¹ MgB₂","x":32.4,"y":701},{"s":"8 g l⁻¹ MgB₂","x":32.8,"y":729},{"s":"8 g l⁻¹ MgB₂","x":33.2,"y":653},{"s":"8 g l⁻¹ MgB₂","x":33.6,"y":677},{"s":"8 g l⁻¹ MgB₂","x":34.0,"y":632},{"s":"8 g l⁻¹ MgB₂","x":34.4,"y":660},{"s":"8 g l⁻¹ MgB₂","x":34.8,"y":609},{"s":"8 g l⁻¹ MgB₂","x":35.2,"y":630},{"s":"8 g l⁻¹ MgB₂","x":35.6,"y":551},{"s":"8 g l⁻¹ MgB₂","x":36.0,"y":572},{"s":"8 g l⁻¹ MgB₂","x":36.4,"y":526},{"s":"8 g l⁻¹ MgB₂","x":36.8,"y":555},{"s":"8 g l⁻¹ MgB₂","x":37.2,"y":480},{"s":"8 g l⁻¹ MgB₂","x":37.6,"y":505},{"s":"8 g l⁻¹ MgB₂","x":38.0,"y":462},{"s":"8 g l⁻¹ MgB₂","x":38.4,"y":494},{"s":"8 g l⁻¹ MgB₂","x":38.8,"y":450},{"s":"8 g l⁻¹ MgB₂","x":39.2,"y":478},{"s":"8 g l⁻¹ MgB₂","x":39.6,"y":405},{"s":"8 g l⁻¹ MgB₂","x":40.0,"y":438},{"s":"8 g l⁻¹ MgB₂","x":40.4,"y":404},{"s":"8 g l⁻¹ MgB₂","x":40.8,"y":442},{"s":"8 g l⁻¹ MgB₂","x":41.2,"y":376},{"s":"8 g l⁻¹ MgB₂","x":41.6,"y":412},{"s":"8 g l⁻¹ MgB₂","x":42.0,"y":400},{"s":"8 g l⁻¹ MgB₂","x":42.2,"y":560},{"s":"8 g l⁻¹ MgB₂","x":42.4,"y":765},{"s":"8 g l⁻¹ MgB₂","x":42.6,"y":520},{"s":"8 g l⁻¹ MgB₂","x":42.8,"y":444},{"s":"8 g l⁻¹ MgB₂","x":43.2,"y":402},{"s":"8 g l⁻¹ MgB₂","x":43.6,"y":435},{"s":"8 g l⁻¹ MgB₂","x":44.0,"y":368},{"s":"8 g l⁻¹ MgB₂","x":44.4,"y":401},{"s":"8 g l⁻¹ MgB₂","x":44.8,"y":366},{"s":"8 g l⁻¹ MgB₂","x":45.2,"y":406},{"s":"8 g l⁻¹ MgB₂","x":45.6,"y":345},{"s":"8 g l⁻¹ MgB₂","x":46.0,"y":383},{"s":"8 g l⁻¹ MgB₂","x":46.4,"y":353},{"s":"8 g l⁻¹ MgB₂","x":46.8,"y":395},{"s":"8 g l⁻¹ MgB₂","x":47.2,"y":361},{"s":"8 g l⁻¹ MgB₂","x":47.6,"y":399},{"s":"8 g l⁻¹ MgB₂","x":48.0,"y":337},{"s":"8 g l⁻¹ MgB₂","x":48.4,"y":375},{"s":"8 g l⁻¹ MgB₂","x":48.8,"y":348},{"s":"8 g l⁻¹ MgB₂","x":49.2,"y":393},{"s":"8 g l⁻¹ MgB₂","x":49.6,"y":334},{"s":"8 g l⁻¹ MgB₂","x":50.0,"y":374},{"s":"8 g l⁻¹ MgB₂","x":50.4,"y":346},{"s":"8 g l⁻¹ MgB₂","x":50.8,"y":390},{"s":"8 g l⁻¹ MgB₂","x":51.2,"y":362},{"s":"8 g l⁻¹ MgB₂","x":51.6,"y":412},{"s":"8 g l⁻¹ MgB₂","x":52.0,"y":430},{"s":"8 g l⁻¹ MgB₂","x":52.4,"y":397},{"s":"8 g l⁻¹ MgB₂","x":52.8,"y":349},{"s":"8 g l⁻¹ MgB₂","x":53.2,"y":383},{"s":"8 g l⁻¹ MgB₂","x":53.6,"y":319},{"s":"8 g l⁻¹ MgB₂","x":54.0,"y":357},{"s":"8 g l⁻¹ MgB₂","x":54.4,"y":326},{"s":"8 g l⁻¹ MgB₂","x":54.8,"y":368},{"s":"8 g l⁻¹ MgB₂","x":55.2,"y":333},{"s":"8 g l⁻¹ MgB₂","x":55.6,"y":371},{"s":"8 g l⁻¹ MgB₂","x":56.0,"y":309},{"s":"8 g l⁻¹ MgB₂","x":56.4,"y":346},{"s":"8 g l⁻¹ MgB₂","x":56.8,"y":314},{"s":"8 g l⁻¹ MgB₂","x":57.2,"y":357},{"s":"8 g l⁻¹ MgB₂","x":57.6,"y":296},{"s":"8 g l⁻¹ MgB₂","x":58.0,"y":336},{"s":"8 g l⁻¹ MgB₂","x":58.4,"y":308},{"s":"8 g l⁻¹ MgB₂","x":58.8,"y":354},{"s":"8 g l⁻¹ MgB₂","x":59.2,"y":332},{"s":"8 g l⁻¹ MgB₂","x":59.6,"y":402},
    {"s":"8 g l⁻¹ MgB₂","x":60.0,"y":330},{"s":"8 g l⁻¹ MgB₂","x":60.4,"y":343},{"s":"8 g l⁻¹ MgB₂","x":60.8,"y":309},{"s":"8 g l⁻¹ MgB₂","x":61.2,"y":335},{"s":"8 g l⁻¹ MgB₂","x":61.6,"y":289},{"s":"8 g l⁻¹ MgB₂","x":62.0,"y":320},{"s":"8 g l⁻¹ MgB₂","x":62.4,"y":300},{"s":"8 g l⁻¹ MgB₂","x":62.8,"y":334},{"s":"8 g l⁻¹ MgB₂","x":63.2,"y":290},{"s":"8 g l⁻¹ MgB₂","x":63.6,"y":321},{"s":"8 g l⁻¹ MgB₂","x":64.0,"y":301},{"s":"8 g l⁻¹ MgB₂","x":64.4,"y":335},{"s":"8 g l⁻¹ MgB₂","x":64.8,"y":312},{"s":"8 g l⁻¹ MgB₂","x":65.2,"y":343},{"s":"8 g l⁻¹ MgB₂","x":65.6,"y":299},{"s":"8 g l⁻¹ MgB₂","x":66.0,"y":339},{"s":"8 g l⁻¹ MgB₂","x":66.4,"y":318},{"s":"8 g l⁻¹ MgB₂","x":66.8,"y":340},{"s":"8 g l⁻¹ MgB₂","x":67.2,"y":290},{"s":"8 g l⁻¹ MgB₂","x":67.6,"y":315},{"s":"8 g l⁻¹ MgB₂","x":68.0,"y":288},{"s":"8 g l⁻¹ MgB₂","x":68.4,"y":316},{"s":"8 g l⁻¹ MgB₂","x":68.8,"y":287},{"s":"8 g l⁻¹ MgB₂","x":69.2,"y":312},{"s":"8 g l⁻¹ MgB₂","x":69.6,"y":261},{"s":"8 g l⁻¹ MgB₂","x":70.0,"y":287},{"s":"8 g l⁻¹ MgB₂","x":70.4,"y":264},{"s":"8 g l⁻¹ MgB₂","x":70.8,"y":294},{"s":"8 g l⁻¹ MgB₂","x":71.2,"y":247},{"s":"8 g l⁻¹ MgB₂","x":71.6,"y":275},{"s":"8 g l⁻¹ MgB₂","x":72.0,"y":252},{"s":"8 g l⁻¹ MgB₂","x":72.4,"y":282},{"s":"8 g l⁻¹ MgB₂","x":72.8,"y":256},{"s":"8 g l⁻¹ MgB₂","x":73.2,"y":284},{"s":"8 g l⁻¹ MgB₂","x":73.6,"y":237},{"s":"8 g l⁻¹ MgB₂","x":74.0,"y":266},{"s":"8 g l⁻¹ MgB₂","x":74.4,"y":244},{"s":"8 g l⁻¹ MgB₂","x":74.8,"y":276},{"s":"8 g l⁻¹ MgB₂","x":75.2,"y":229},{"s":"8 g l⁻¹ MgB₂","x":75.6,"y":258},{"s":"8 g l⁻¹ MgB₂","x":76.0,"y":236},{"s":"8 g l⁻¹ MgB₂","x":76.4,"y":272},{"s":"8 g l⁻¹ MgB₂","x":76.8,"y":240},{"s":"8 g l⁻¹ MgB₂","x":77.2,"y":266},{"s":"8 g l⁻¹ MgB₂","x":77.6,"y":217},{"s":"8 g l⁻¹ MgB₂","x":78.0,"y":244},{"s":"8 g l⁻¹ MgB₂","x":78.4,"y":219},{"s":"8 g l⁻¹ MgB₂","x":78.8,"y":249},{"s":"8 g l⁻¹ MgB₂","x":79.2,"y":200},{"s":"8 g l⁻¹ MgB₂","x":79.6,"y":229},{"s":"8 g l⁻¹ MgB₂","x":80.0,"y":207},{"s":"8 g l⁻¹ MgB₂","x":80.4,"y":239},{"s":"8 g l⁻¹ MgB₂","x":80.8,"y":214},{"s":"8 g l⁻¹ MgB₂","x":81.2,"y":243},{"s":"8 g l⁻¹ MgB₂","x":81.6,"y":196},{"s":"8 g l⁻¹ MgB₂","x":82.0,"y":223},{"s":"8 g l⁻¹ MgB₂","x":82.4,"y":199},{"s":"8 g l⁻¹ MgB₂","x":82.8,"y":231},{"s":"8 g l⁻¹ MgB₂","x":83.2,"y":184},{"s":"8 g l⁻¹ MgB₂","x":83.6,"y":211},{"s":"8 g l⁻¹ MgB₂","x":84.0,"y":187},{"s":"8 g l⁻¹ MgB₂","x":84.4,"y":217},{"s":"8 g l⁻¹ MgB₂","x":84.8,"y":190},{"s":"8 g l⁻¹ MgB₂","x":85.2,"y":217},{"s":"8 g l⁻¹ MgB₂","x":85.6,"y":169},{"s":"8 g l⁻¹ MgB₂","x":86.0,"y":196},{"s":"8 g l⁻¹ MgB₂","x":86.4,"y":172},{"s":"8 g l⁻¹ MgB₂","x":86.8,"y":202},{"s":"8 g l⁻¹ MgB₂","x":87.2,"y":156},{"s":"8 g l⁻¹ MgB₂","x":87.6,"y":185},{"s":"8 g l⁻¹ MgB₂","x":88.0,"y":163},{"s":"8 g l⁻¹ MgB₂","x":88.4,"y":195},{"s":"8 g l⁻¹ MgB₂","x":88.8,"y":170},{"s":"8 g l⁻¹ MgB₂","x":89.2,"y":199},{"s":"8 g l⁻¹ MgB₂","x":89.6,"y":153},{"s":"8 g l⁻¹ MgB₂","x":90.0,"y":182}
  ],
  "b_green": [
    {"s":"MgB₂","x":10,"y":6000},{"s":"MgB₂","x":11,"y":5200},{"s":"MgB₂","x":12,"y":4800},{"s":"MgB₂","x":13,"y":4500},{"s":"MgB₂","x":14,"y":4300},{"s":"MgB₂","x":15,"y":4100},{"s":"MgB₂","x":16,"y":3900},{"s":"MgB₂","x":17,"y":3800},{"s":"MgB₂","x":18,"y":3600},{"s":"MgB₂","x":19,"y":3500},{"s":"MgB₂","x":20,"y":3400},{"s":"MgB₂","x":21,"y":3300},{"s":"MgB₂","x":22,"y":3200},{"s":"MgB₂","x":23,"y":3100},{"s":"MgB₂","x":24,"y":3000},{"s":"MgB₂","x":25,"y":2900},{"s":"MgB₂","x":26,"y":2800},{"s":"MgB₂","x":27,"y":2700},{"s":"MgB₂","x":28,"y":2600},{"s":"MgB₂","x":29,"y":2500},{"s":"MgB₂","x":30,"y":2400},{"s":"MgB₂","x":31,"y":2300},{"s":"MgB₂","x":32,"y":2300},{"s":"MgB₂","x":32.8,"y":2800},{"s":"MgB₂","x":33.1,"y":20000},{"s":"MgB₂","x":33.3,"y":60000},{"s":"MgB₂","x":33.5,"y":92000},{"s":"MgB₂","x":33.7,"y":55000},{"s":"MgB₂","x":33.9,"y":15000},{"s":"MgB₂","x":34.2,"y":3500},{"s":"MgB₂","x":35.0,"y":3000},{"s":"MgB₂","x":35.3,"y":7000},{"s":"MgB₂","x":35.5,"y":13000},{"s":"MgB₂","x":35.7,"y":6000},{"s":"MgB₂","x":36.0,"y":2500},{"s":"MgB₂","x":37.0,"y":3000},{"s":"MgB₂","x":37.5,"y":2500},{"s":"MgB₂","x":38.2,"y":4000},{"s":"MgB₂","x":38.5,"y":8000},{"s":"MgB₂","x":38.8,"y":3500},{"s":"MgB₂","x":39.5,"y":2500},{"s":"MgB₂","x":40.2,"y":3500},{"s":"MgB₂","x":40.6,"y":5500},{"s":"MgB₂","x":41.0,"y":5000},{"s":"MgB₂","x":41.5,"y":7000},{"s":"MgB₂","x":41.9,"y":15000},{"s":"MgB₂","x":42.1,"y":60000},{"s":"MgB₂","x":42.25,"y":180000},{"s":"MgB₂","x":42.4,"y":272000},{"s":"MgB₂","x":42.55,"y":170000},{"s":"MgB₂","x":42.7,"y":50000},{"s":"MgB₂","x":42.9,"y":22000},{"s":"MgB₂","x":43.2,"y":9000},{"s":"MgB₂","x":43.6,"y":4000},{"s":"MgB₂","x":44.5,"y":2500},{"s":"MgB₂","x":46.0,"y":4500},{"s":"MgB₂","x":46.5,"y":2500},{"s":"MgB₂","x":48,"y":2200},{"s":"MgB₂","x":49.5,"y":2000},{"s":"MgB₂","x":50.5,"y":2200},{"s":"MgB₂","x":51.3,"y":3000},{"s":"MgB₂","x":51.7,"y":12000},{"s":"MgB₂","x":51.95,"y":32000},{"s":"MgB₂","x":52.2,"y":12000},{"s":"MgB₂","x":52.6,"y":3000},{"s":"MgB₂","x":53.5,"y":1800},{"s":"MgB₂","x":55,"y":1800},{"s":"MgB₂","x":56,"y":2500},{"s":"MgB₂","x":57,"y":1800},{"s":"MgB₂","x":58.5,"y":1800},{"s":"MgB₂","x":59.3,"y":5000},{"s":"MgB₂","x":59.65,"y":30000},{"s":"MgB₂","x":59.85,"y":52000},{"s":"MgB₂","x":60.05,"y":28000},{"s":"MgB₂","x":60.4,"y":5000},{"s":"MgB₂","x":61.0,"y":2000},{"s":"MgB₂","x":61.8,"y":4000},{"s":"MgB₂","x":62.2,"y":9500},{"s":"MgB₂","x":62.5,"y":5000},{"s":"MgB₂","x":62.9,"y":10000},{"s":"MgB₂","x":63.15,"y":18000},{"s":"MgB₂","x":63.4,"y":9000},{"s":"MgB₂","x":63.8,"y":2500},{"s":"MgB₂","x":64.8,"y":2000},{"s":"MgB₂","x":65.6,"y":3500},{"s":"MgB₂","x":65.9,"y":8500},{"s":"MgB₂","x":66.2,"y":3500},{"s":"MgB₂","x":67,"y":1800},{"s":"MgB₂","x":69,"y":1800},{"s":"MgB₂","x":70.0,"y":3000},{"s":"MgB₂","x":70.3,"y":8000},{"s":"MgB₂","x":70.6,"y":3000},{"s":"MgB₂","x":71.5,"y":1600},{"s":"MgB₂","x":73,"y":1500},{"s":"MgB₂","x":74.5,"y":1600},{"s":"MgB₂","x":75.5,"y":3500},{"s":"MgB₂","x":75.9,"y":14000},{"s":"MgB₂","x":76.15,"y":23000},{"s":"MgB₂","x":76.45,"y":12000},{"s":"MgB₂","x":76.9,"y":3000},{"s":"MgB₂","x":77.8,"y":1700},{"s":"MgB₂","x":78.3,"y":3000},{"s":"MgB₂","x":78.8,"y":1500},{"s":"MgB₂","x":80,"y":1400},{"s":"MgB₂","x":81.5,"y":1500},{"s":"MgB₂","x":82.5,"y":3000},{"s":"MgB₂","x":82.9,"y":12000},{"s":"MgB₂","x":83.2,"y":21500},{"s":"MgB₂","x":83.5,"y":11000},{"s":"MgB₂","x":83.9,"y":2500},{"s":"MgB₂","x":85,"y":1300},{"s":"MgB₂","x":87,"y":1200},{"s":"MgB₂","x":89,"y":1100},{"s":"MgB₂","x":90,"y":1100}
  ],
  "b_marks": [{"k":"circle","x":12.5,"y":1209},{"k":"square","x":17.1,"y":1083},{"k":"triangle","x":13.1,"y":928},{"k":"circle","x":58.0,"y":2216},{"k":"triangle","x":58.0,"y":2010},{"k":"square","x":58.0,"y":1784}],
  "b_peaks": [{"t":"101","x":42.3,"y":2410},{"t":"100","x":33.7,"y":1548},{"t":"002","x":52.1,"y":1240},{"t":"110","x":59.9,"y":1332},{"t":"102","x":63.4,"y":1159},{"t":"200","x":70.2,"y":1160},{"t":"201","x":76.2,"y":1154}],
  "b_nb": [{"t":"Nb₂O₅","x":29.1,"y":1875}],
  "b_label": [{"t":"(b)","x":17.1,"y":2285}]
},
"concat": [
  {
    "hconcat": [
      {"width": 29, "height": 10, "view": {"stroke": null}, "data": {"values": [{"t": ""}]}, "mark": "text", "encoding": {"text": {"field": "t"}}},
      {
        "width": 631, "height": 510,
        "encoding": {
          "x": {"field": "x", "type": "quantitative", "scale": {"domain": [7, 94.5], "nice": false, "zero": false},
                "axis": {"title": "Angel/2θ", "titleFontSize": 42, "titleX": 337, "titlePadding": 30,
                         "values": [8,10,12,14,16,18,20,22,24,26,28,30,32,34,36,38,40,42,44,46,48,50,52,54,56,58,60,62,64,66,68,70,72,74,76,78,80,82,84,86,88,90,92,94],
                         "labelExpr": "datum.value % 10 === 0 ? '' + datum.value : ''",
                         "tickSize": {"condition": {"test": "datum.value % 10 === 0", "value": 9}, "value": 5},
                         "labelPadding": 4, "labelFont": "Liberation Sans", "labelFontSize": 21}},
          "y": {"field": "y", "type": "quantitative", "scale": {"domain": [-1800, 36000], "nice": false, "zero": false},
                "axis": {"title": "Intensity/a.u.", "titleFontSize": 50, "titleY": 234, "titlePadding": 15,
                         "values": [0,2000,4000,6000,8000,10000,12000,14000,16000,18000,20000,22000,24000,26000,28000,30000,32000,34000],
                         "labelExpr": "datum.value % 10000 === 0 ? '' + datum.value : ''",
                         "tickSize": {"condition": {"test": "datum.value % 10000 === 0", "value": 10}, "value": 5},
                         "labelPadding": 5}}
        },
        "layer": [
          {"data": {"name": "a_lines"}, "transform": [{"filter": "datum.s !== 'Nb'"}],
           "mark": {"type": "line", "strokeWidth": 1.2},
           "encoding": {"color": {"field": "s", "type": "nominal", "scale": {"domain": ["Nb", "720 s\u00a0 PEO"], "range": ["#1e8c1e", "#1a1ae0"]},
             "legend": {"title": null, "orient": "none", "legendX": 539.5, "legendY": 35, "padding": 7, "strokeColor": "#777777", "fillColor": "#ffffff",
                        "symbolType": "M-0.97,0H7.14", "symbolSize": 210, "symbolStrokeWidth": 1.6, "labelFont": "Liberation Serif", "labelFontSize": 25, "labelColor": "#111111", "labelOffset": 48, "rowPadding": 7, "labelLimit": 300}}}},
          {"data": {"name": "a_lines"}, "transform": [{"filter": "datum.s === 'Nb'"}],
           "mark": {"type": "line", "strokeWidth": 2},
           "encoding": {"color": {"field": "s", "type": "nominal", "scale": {"domain": ["Nb", "720 s\u00a0 PEO"], "range": ["#1e8c1e", "#1a1ae0"]},
             "legend": {"title": null, "orient": "none", "legendX": 539.5, "legendY": 35, "padding": 7, "strokeColor": "#777777", "fillColor": "#ffffff",
                        "symbolType": "M-0.97,0H7.14", "symbolSize": 210, "symbolStrokeWidth": 1.6, "labelFont": "Liberation Serif", "labelFontSize": 25, "labelColor": "#111111", "labelOffset": 48, "rowPadding": 7, "labelLimit": 300}}}},
          {"data": {"name": "a_marks"}, "mark": {"type": "point", "filled": false, "strokeWidth": 2.2, "size": 330},
           "encoding": {"shape": {"field": "k", "type": "nominal", "scale": {"domain": ["circle", "triangle", "square"], "range": ["circle", "triangle-up", "square"]}, "legend": null},
                        "stroke": {"field": "k", "type": "nominal", "scale": {"domain": ["circle", "triangle", "square"], "range": ["#3a5894", "#4b84c8", "#2c4a80"]}, "legend": null}}},
          {"data": {"name": "a_arrow"}, "mark": {"type": "rule", "strokeWidth": 1.3, "color": "#111111"},
           "encoding": {"x2": {"field": "x2"}, "y2": {"field": "y2"}}},
          {"data": {"name": "a_head"}, "mark": {"type": "point", "shape": "triangle-down", "angle": 17, "filled": true, "color": "#111111", "size": 80, "opacity": 1}},
          {"data": {"name": "a_label"}, "mark": {"type": "text", "fontSize": 30, "font": "Liberation Sans"}, "encoding": {"text": {"field": "t"}}},
          {"data": {"name": "a_nb"}, "mark": {"type": "text", "fontSize": 17, "font": "Liberation Sans"}, "encoding": {"text": {"field": "t"}}}
        ]
      }
    ],
    "spacing": 0
  },
  {
    "hconcat": [
      {"width": 1, "height": 10, "view": {"stroke": null}, "data": {"values": [{"t": ""}]}, "mark": "text", "encoding": {"text": {"field": "t"}}},
      {
        "width": 644, "height": 520,
        "encoding": {
          "x": {"field": "x", "type": "quantitative", "scale": {"domain": [10, 97.5], "nice": false, "zero": false},
                "axis": {"title": "Angel/2θ", "titleFontSize": 42, "titleX": 341, "titlePadding": 25,
                         "values": [10,12,14,16,18,20,22,24,26,28,30,32,34,36,38,40,42,44,46,48,50,52,54,56,58,60,62,64,66,68,70,72,74,76,78,80,82,84,86,88,90,92,94,96],
                         "labelExpr": "datum.value % 10 === 0 ? '' + datum.value : ''",
                         "tickSize": {"condition": {"test": "datum.value % 10 === 0", "value": 9}, "value": 5},
                         "labelPadding": 4, "labelFont": "Liberation Sans", "labelFontSize": 21}}
        },
        "layer": [
          {
            "encoding": {
              "y": {"field": "y", "type": "quantitative", "scale": {"domain": [0, 2500], "nice": false, "zero": false},
                    "axis": {"title": "Intensity/a.u.", "titleFontSize": 42, "titlePadding": 26,
                             "values": [0,100,200,300,400,500,600,700,800,900,1000,1100,1200,1300,1400,1500,1600,1700,1800,1900,2000,2100,2200,2300,2400,2500],
                             "labelExpr": "datum.value % 500 === 0 ? '' + datum.value : ''",
                             "tickSize": {"condition": {"test": "datum.value % 500 === 0", "value": 10}, "value": 5},
                             "labelPadding": 7}}
            },
            "layer": [
              {"data": {"name": "b_lines"}, "mark": {"type": "line", "strokeWidth": 1.1},
               "encoding": {"color": {"field": "s", "type": "nominal", "scale": {"domain": ["3 g l⁻¹ MgB₂", "8 g l⁻¹ MgB₂", "MgB₂"], "range": ["#f21b1b", "#1616e6", "#3a9a3a"]},
                 "legend": {"title": null, "orient": "none", "legendX": 499, "legendY": 46, "padding": 0, "symbolType": "M-1,0H7.14", "symbolSize": 196, "symbolStrokeWidth": 1.3, "labelFont": "Liberation Serif", "labelFontSize": 26, "labelColor": "#111111", "labelOffset": 47, "rowPadding": 19, "labelLimit": 300}}}},
              {"data": {"name": "b_marks"}, "mark": {"type": "point", "filled": false, "strokeWidth": 2.2, "size": 330},
               "encoding": {"shape": {"field": "k", "type": "nominal", "scale": {"domain": ["circle", "triangle", "square"], "range": ["circle", "triangle-up", "square"]}, "legend": null},
                            "stroke": {"field": "k", "type": "nominal", "scale": {"domain": ["circle", "triangle", "square"], "range": ["#3a5894", "#4b84c8", "#2c4a80"]}, "legend": null}}},
              {"data": {"name": "b_peaks"}, "mark": {"type": "text", "fontSize": 16, "font": "Liberation Sans"}, "encoding": {"text": {"field": "t"}}},
              {"data": {"name": "b_nb"}, "mark": {"type": "text", "fontSize": 18, "font": "Liberation Sans"}, "encoding": {"text": {"field": "t"}}},
              {"data": {"name": "b_label"}, "mark": {"type": "text", "fontSize": 30, "font": "Liberation Sans"}, "encoding": {"text": {"field": "t"}}}
            ]
          },
          {
            "data": {"name": "b_green"},
            "mark": {"type": "line", "strokeWidth": 1.2},
            "encoding": {
              "y": {"field": "y", "type": "quantitative", "scale": {"domain": [-200000, 300000], "nice": false, "zero": false},
                    "axis": {"orient": "right", "title": "Intensity/a.u.", "titleFontSize": 41, "titlePadding": 21, "titleY": 247,
                             "values": [-200000,-150000,-100000,-50000,0,50000,100000,150000,200000,250000,300000],
                             "labelExpr": "datum.value % 100000 === 0 ? '' + datum.value : ''",
                             "tickSize": {"condition": {"test": "datum.value % 100000 === 0", "value": -10}, "value": -5},
                             "labelPadding": 23, "domainColor": "#2e8b3a", "domainWidth": 2, "tickColor": "#2e8b3a", "labelColor": "#2e8b3a", "titleColor": "#2e8b3a"}},
              "color": {"field": "s", "type": "nominal", "scale": {"domain": ["3 g l⁻¹ MgB₂", "8 g l⁻¹ MgB₂", "MgB₂"], "range": ["#f21b1b", "#1616e6", "#3a9a3a"]},
                 "legend": {"title": null, "orient": "none", "legendX": 499, "legendY": 46, "padding": 0, "symbolType": "M-1,0H7.14", "symbolSize": 196, "symbolStrokeWidth": 1.3, "labelFont": "Liberation Serif", "labelFontSize": 26, "labelColor": "#111111", "labelOffset": 47, "rowPadding": 19, "labelLimit": 300}}
            }
          }
        ],
        "resolve": {"scale": {"y": "independent"}}
      }
    ],
    "spacing": 0
  }
],
"columns": 1,
"align": "none",
"spacing": 110
}
